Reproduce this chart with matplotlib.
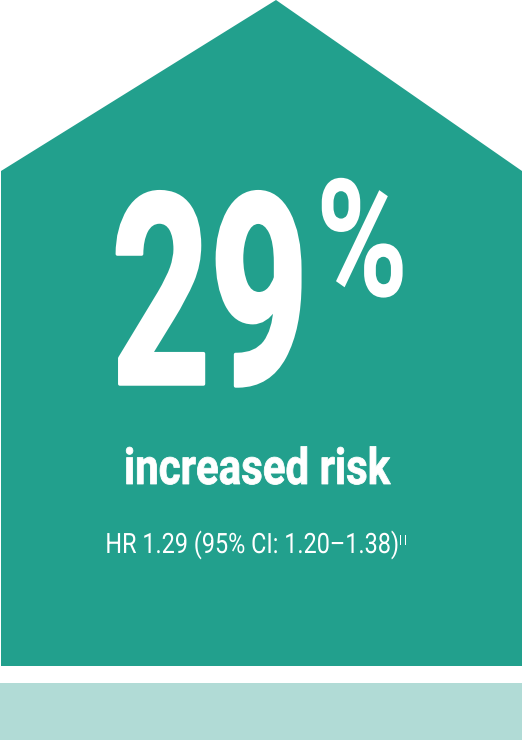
import matplotlib
matplotlib.use("Agg")
import matplotlib.pyplot as plt
from matplotlib.patches import Polygon, Rectangle
from matplotlib.patheffects import AbstractPathEffect
from matplotlib.transforms import Affine2D

# values shown in the graphic
hazard_ratio = 1.29
ci_low = 1.20
ci_high = 1.38
pct_increase = round((hazard_ratio - 1) * 100)
caption = "increased risk"
footnote = "II"

teal = "#22A08D"
light_teal = "#B1DBD6"


class Squeeze(AbstractPathEffect):
    # narrow the glyphs horizontally around the anchor x (condensed look),
    # optionally with an outline of the same colour to make them heavier
    def __init__(self, ax, x, sx, lw=0):
        super().__init__()
        self.ax = ax
        self.x = x
        self.sx = sx
        self.lw = lw

    def draw_path(self, renderer, gc, tpath, affine, rgbFace=None):
        x0 = self.ax.transData.transform((self.x, 0))[0]
        squeeze = Affine2D().translate(-x0, 0).scale(self.sx, 1).translate(x0, 0)
        tr = affine + squeeze
        if self.lw:
            gc0 = renderer.new_gc()
            gc0.copy_properties(gc)
            gc0.set_linewidth(self.lw)
            gc0.set_foreground(rgbFace)
            gc0.set_joinstyle("round")
            renderer.draw_path(gc0, tpath, tr, rgbFace)
            gc0.restore()
        else:
            renderer.draw_path(gc, tpath, tr, rgbFace)


fig = plt.figure(figsize=(5.26, 7.40), dpi=100)
ax = fig.add_axes([0, 0, 1, 1])
ax.set_xlim(0, 526)
ax.set_ylim(740, 0)
ax.axis("off")

# house shape
house = Polygon([(1, 666), (1, 171), (276, 0), (522, 171), (522, 666)],
                closed=True, facecolor=teal, edgecolor="none")
ax.add_patch(house)
ax.add_patch(Rectangle((0, 683), 522, 57, facecolor=light_teal, edgecolor="none"))


def label(x, y, s, size, weight, sx, ha="center", lw=0):
    t = ax.text(x, y, s, fontsize=size, fontweight=weight, color="white",
                ha=ha, va="baseline", family=["Roboto", "DejaVu Sans"])
    t.set_path_effects([Squeeze(ax, x, sx, lw)])
    return t


label(210, 384, f"{pct_increase}", 192, "bold", 0.645, lw=2.5)
label(316, 296, "%", 118, "bold", 0.76, ha="left")
label(257, 484, caption, 36, "bold", 0.84, lw=0.6)
label(252, 553, f"HR {hazard_ratio:.2f} (95% CI: {ci_low:.2f}\u2013{ci_high:.2f})",
      20.2, "normal", 0.835)
label(398, 545, footnote, 10, "normal", 1.3, ha="left")

fig.savefig("out.png", dpi=100)
